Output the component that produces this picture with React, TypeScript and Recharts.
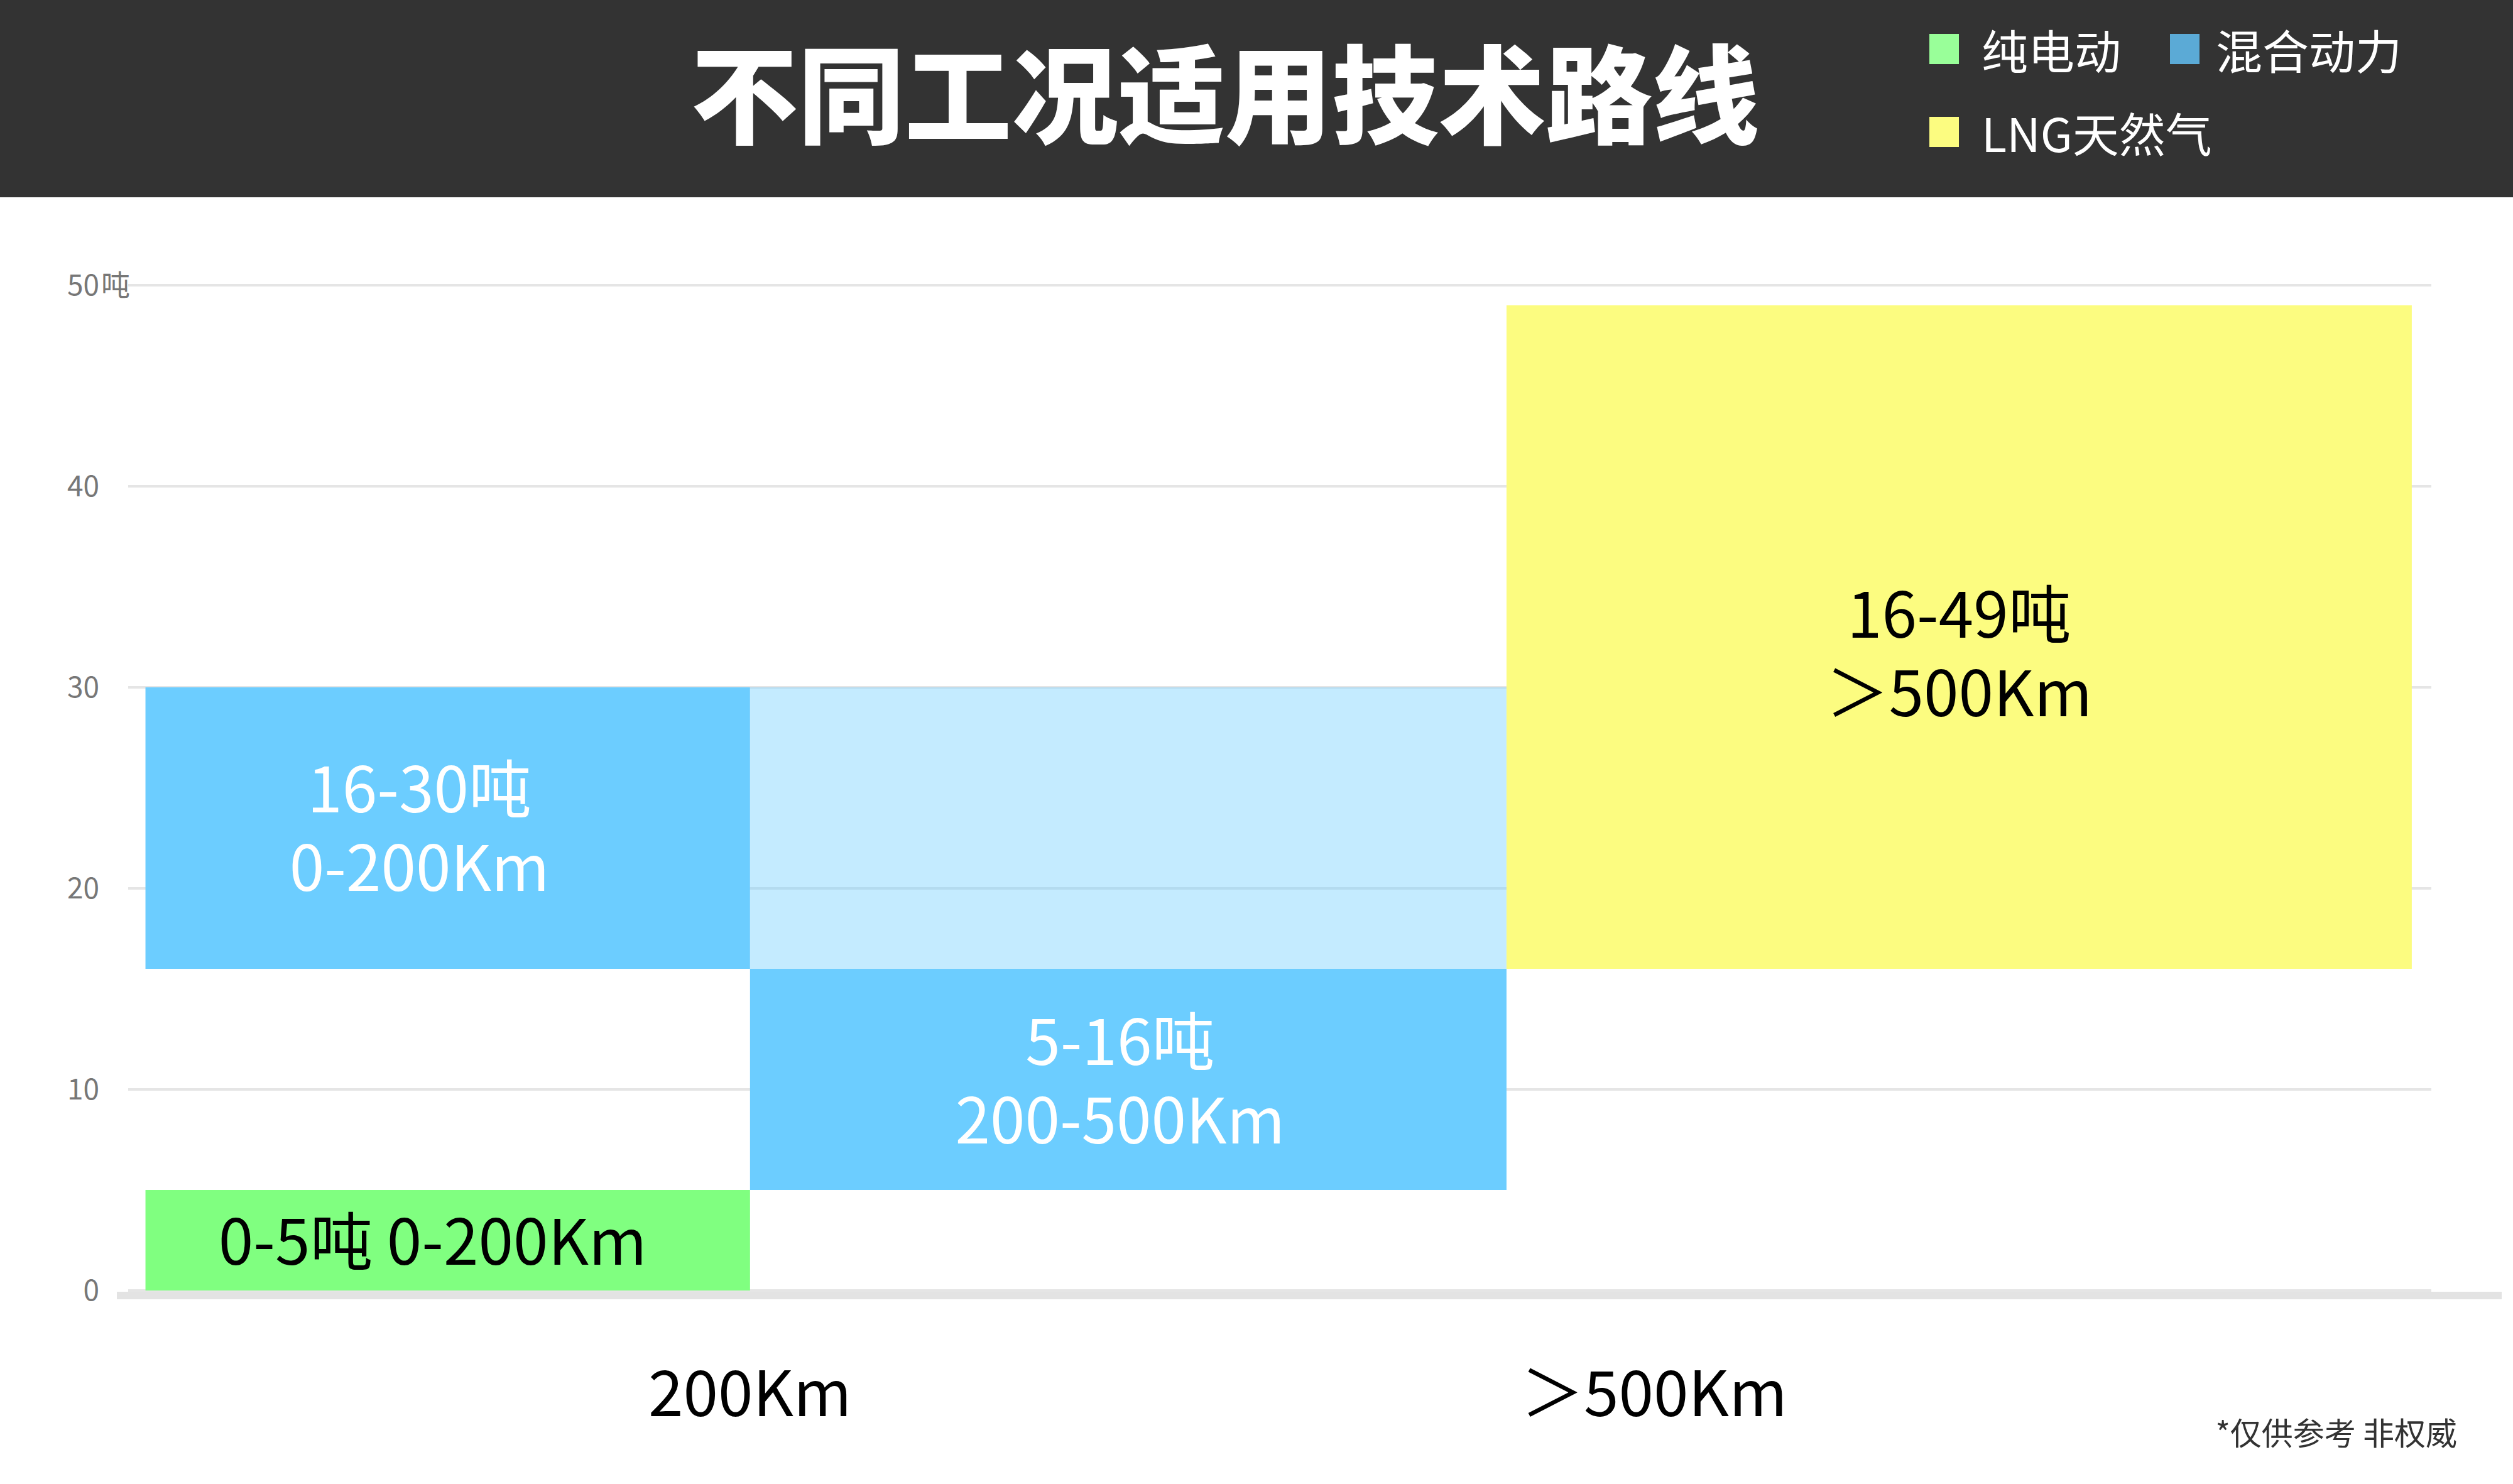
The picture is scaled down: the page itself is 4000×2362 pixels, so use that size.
import React from 'react';
import { ComposedChart, XAxis, YAxis, CartesianGrid, ReferenceArea, Scatter } from 'recharts';

const FONT = '"Noto Sans CJK SC", "Noto Sans", sans-serif';

// legend
const techNames = ['纯电动', '混合动力', 'LNG天然气'];
const techColors = ['#99FF99', '#5BAAD6', '#FCFC80'];

// blocks (x in relative distance units, y in tonnes)
const blockXStart = [1.2, 1.2, 26.55, 26.55, 58.27];
const blockXEnd = [26.55, 26.55, 58.27, 58.27, 96.23];
const blockTonMin = [0, 16, 16, 5, 16];
const blockTonMax = [5, 30, 30, 16, 49];
const blockLines = [
  ['0-5吨 0-200Km'],
  ['16-30吨', '0-200Km'],
  [],
  ['5-16吨', '200-500Km'],
  ['16-49吨', '＞500Km'],
];

const tonTicks = [0, 10, 20, 30, 40, 50];
const distanceTicks = [26.55, 64.46];
const distanceLabels = ['200Km', '＞500Km'];

// styling per block
const blockFills = ['#80FF80', '#6CCDFF', '#6CCDFF', '#6CCDFF', '#FCFC80'];
const blockOpacity = [1, 1, 0.4, 1, 1];
const blockTextColor = ['#000000', '#FFFFFF', '#FFFFFF', '#FFFFFF', '#000000'];
const labelShiftX = [-24, -45, 0, -13, 0];
const labelShiftY = [4, 2, 0, 4, 28];

// label anchor points at the centre of each block
const labelPoints = blockLines
  .map((lines, i) => ({
    idx: i,
    x: (blockXStart[i] + blockXEnd[i]) / 2,
    y: (blockTonMin[i] + blockTonMax[i]) / 2,
    lines,
  }))
  .filter((p) => p.lines.length > 0);

function BlockLabel(props: any) {
  const { cx, cy, payload } = props;
  if (cx == null || cy == null || !payload) return null;
  const i = payload.idx;
  const x = cx + labelShiftX[i];
  const lh = 125;
  const y0 = cy + labelShiftY[i] - ((payload.lines.length - 1) * lh) / 2;
  return (
    <text x={x} y={y0} textAnchor='middle' fill={blockTextColor[i]} fontSize={100} fontFamily={FONT}>
      {payload.lines.map((l: string, k: number) => (
        <tspan key={k} x={x} y={y0 + k * lh} dy='0.35em'>{l}</tspan>
      ))}
    </text>
  );
}

function TonTick({ x, y, payload }: any) {
  return (
    <g>
      <text x={x} y={y} dy='0.35em' textAnchor='end' fill='#777777' fontSize={46} fontFamily={FONT}>{payload.value}</text>
      {payload.value === 50 && (
        <text x={x + 3} y={y} dy='0.35em' textAnchor='start' fill='#777777' fontSize={46} fontFamily={FONT}>吨</text>
      )}
    </g>
  );
}

function DistanceTick({ x, y, payload }: any) {
  const idx = distanceTicks.indexOf(payload.value);
  return (
    <text x={x} y={y + 157} dy='0.35em' textAnchor='middle' fill='#000000' fontSize={100} fontFamily={FONT}>
      {distanceLabels[idx]}
    </text>
  );
}

export default function App() {
  return (
    <div style={{ position: 'absolute', left: 0, top: 0, width: 4000, height: 2362, background: '#FFFFFF', fontFamily: FONT, overflow: 'hidden' }}>
      <div style={{ position: 'absolute', left: 0, top: 0, width: 4000, height: 314, background: '#333333' }}>
        <div style={{ position: 'absolute', left: 0, top: -15, width: 3900, height: 314, lineHeight: '314px', textAlign: 'center', color: '#FFFFFF', fontSize: 170, fontWeight: 900 }}>
          不同工况适用技术路线
        </div>
        <div style={{ position: 'absolute', left: 3071, top: 40, width: 900, display: 'flex', flexWrap: 'wrap', rowGap: 56 }}>
          {techNames.map((name, i) => (
            <div key={name} style={{ display: 'flex', alignItems: 'center', minWidth: 383, height: 76 }}>
              <div style={{ width: 47, height: 48, background: techColors[i], marginRight: i === 1 ? 26 : 36 }} />
              <span style={{ color: '#FFFFFF', fontSize: 74, lineHeight: '76px' }}>{name}</span>
            </div>
          ))}
        </div>
      </div>

      <div style={{ position: 'absolute', left: 0, top: 0 }}>
        <ComposedChart width={4000} height={2362} data={labelPoints} margin={{ top: 454, right: 18, bottom: 58, left: 36 }}>
          <CartesianGrid horizontal vertical={false} x={204} width={3666} stroke='#E5E5E5' strokeWidth={4} />
          <XAxis
            type='number'
            dataKey='x'
            domain={[0, 100]}
            ticks={distanceTicks}
            height={250}
            axisLine={{ stroke: '#E3E3E3', strokeWidth: 12, transform: 'translate(0, 8)' }}
            tickLine={false}
            tick={<DistanceTick />}
            interval={0}
          />
          <YAxis
            type='number'
            dataKey='y'
            domain={[0, 50]}
            ticks={tonTicks}
            width={150}
            axisLine={false}
            tickLine={false}
            tickSize={0}
            tickMargin={28}
            tick={<TonTick />}
            interval={0}
          />
          {blockTonMin.map((_, i) => (
            <ReferenceArea
              key={i}
              x1={blockXStart[i]}
              x2={blockXEnd[i]}
              y1={blockTonMin[i]}
              y2={blockTonMax[i]}
              fill={blockFills[i]}
              fillOpacity={blockOpacity[i]}
              stroke='none'
              ifOverflow='visible'
            />
          ))}
          <Scatter data={labelPoints} dataKey='y' shape={<BlockLabel />} isAnimationActive={false} />
        </ComposedChart>
      </div>

      <div style={{ position: 'absolute', right: 89, top: 2246, fontSize: 50, color: '#333333', lineHeight: '64px' }}>
        *仅供参考 非权威
      </div>
    </div>
  );
}
